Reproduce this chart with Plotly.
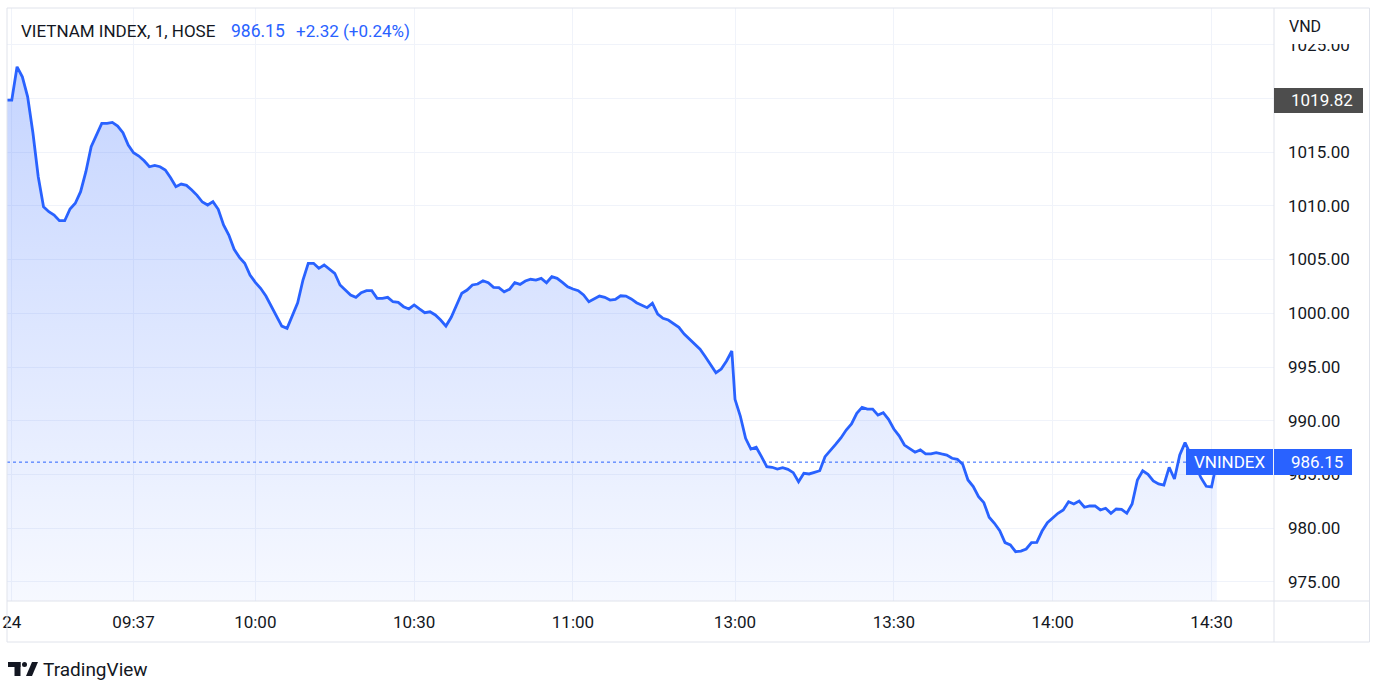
import plotly.graph_objects as go

# ---------------- data ----------------
DAY = "2023-10-24"
SYMBOL_TEXT = "VIETNAM INDEX, 1, HOSE"
TICKER = "VNINDEX"
CURRENCY = "VND"
last_price = 986.15
change = 2.32
change_pct = 0.24
marked_price = 1019.82

times = [
    "09:13", "09:14", "09:15", "09:16", "09:17", "09:18", "09:19", "09:20", "09:21", "09:22",
    "09:23", "09:24", "09:25", "09:26", "09:27", "09:28", "09:29", "09:30", "09:31", "09:32",
    "09:33", "09:34", "09:35", "09:36", "09:37", "09:38", "09:39", "09:40", "09:41", "09:42",
    "09:43", "09:44", "09:45", "09:46", "09:47", "09:48", "09:49", "09:50", "09:51", "09:52",
    "09:53", "09:54", "09:55", "09:56", "09:57", "09:58", "09:59", "10:00", "10:01", "10:02",
    "10:03", "10:04", "10:05", "10:06", "10:07", "10:08", "10:09", "10:10", "10:11", "10:12",
    "10:13", "10:14", "10:15", "10:16", "10:17", "10:18", "10:19", "10:20", "10:21", "10:22",
    "10:23", "10:24", "10:25", "10:26", "10:27", "10:28", "10:29", "10:30", "10:31", "10:32",
    "10:33", "10:34", "10:35", "10:36", "10:37", "10:38", "10:39", "10:40", "10:41", "10:42",
    "10:43", "10:44", "10:45", "10:46", "10:47", "10:48", "10:49", "10:50", "10:51", "10:52",
    "10:53", "10:54", "10:55", "10:56", "10:57", "10:58", "10:59", "11:00", "11:01", "11:02",
    "11:03", "11:05", "11:06", "11:07", "11:08", "11:09", "11:10", "11:11", "11:12", "11:14",
    "11:15", "11:16", "11:17", "11:18", "11:19", "11:20", "11:21", "11:22", "11:23", "11:24",
    "11:25", "11:26", "11:27", "11:28", "11:29", "11:30",
    "13:00", "13:01", "13:02", "13:03", "13:04", "13:05", "13:06", "13:07", "13:08", "13:09",
    "13:10", "13:11", "13:12", "13:13", "13:14", "13:15", "13:16", "13:17", "13:18", "13:19",
    "13:20", "13:21", "13:22", "13:23", "13:24", "13:25", "13:26", "13:27", "13:28", "13:29",
    "13:30", "13:31", "13:32", "13:33", "13:34", "13:35", "13:36", "13:37", "13:38", "13:39",
    "13:40", "13:41", "13:42", "13:43", "13:44", "13:45", "13:46", "13:47", "13:48", "13:49",
    "13:50", "13:51", "13:52", "13:53", "13:54", "13:55", "13:56", "13:57", "13:58", "13:59",
    "14:00", "14:01", "14:02", "14:03", "14:04", "14:05", "14:06", "14:07", "14:08", "14:09",
    "14:10", "14:11", "14:12", "14:13", "14:14", "14:15", "14:16", "14:17", "14:18", "14:19",
    "14:20", "14:21", "14:22", "14:23", "14:24", "14:25", "14:26", "14:27", "14:28", "14:29",
    "14:30", "14:31",
]
values = [
    1019.82, 1019.82, 1022.93, 1022.00, 1020.14, 1016.77, 1012.70, 1009.91, 1009.45, 1009.14,
    1008.61, 1008.61, 1009.70, 1010.23, 1011.31, 1013.17, 1015.49, 1016.58, 1017.67, 1017.67,
    1017.76, 1017.42, 1016.80, 1015.65, 1014.94, 1014.63, 1014.19, 1013.63, 1013.76, 1013.63,
    1013.33, 1012.61, 1011.77, 1012.02, 1011.90, 1011.47, 1010.97, 1010.35, 1010.07, 1010.38,
    1009.67, 1008.21, 1007.28, 1005.95, 1005.20, 1004.65, 1003.56, 1002.88, 1002.32, 1001.60,
    1000.67, 999.77, 998.81, 998.60, 999.84, 1000.98, 1003.09, 1004.65, 1004.65, 1004.18,
    1004.49, 1004.12, 1003.72, 1002.63, 1002.16, 1001.70, 1001.48, 1001.91, 1002.10, 1002.10,
    1001.39, 1001.39, 1001.48, 1001.07, 1001.02, 1000.61, 1000.40, 1000.77, 1000.40, 1000.05,
    1000.14, 999.84, 999.37, 998.81, 999.62, 1000.77, 1001.86, 1002.16, 1002.63, 1002.72,
    1003.03, 1002.84, 1002.41, 1002.38, 1002.00, 1002.23, 1002.84, 1002.69, 1003.00, 1003.16,
    1003.09, 1003.25, 1002.84, 1003.40, 1003.25, 1002.88, 1002.47, 1002.26, 1002.10, 1001.70,
    1001.07, 1001.60, 1001.48, 1001.23, 1001.30, 1001.63, 1001.60, 1001.33, 1000.98, 1000.52,
    1000.93, 999.93, 999.53, 999.37, 999.07, 998.69, 998.07, 997.58, 997.05, 996.65,
    995.96, 995.23, 994.47, 994.81, 995.56, 996.49,
    991.99, 990.44, 988.37, 987.37, 987.53, 986.66, 985.73, 985.67, 985.51, 985.63,
    985.48, 985.17, 984.33, 985.11, 985.05, 985.20, 985.35, 986.66, 987.28, 987.80,
    988.40, 989.14, 989.70, 990.69, 991.25, 991.09, 991.09, 990.53, 990.75, 990.13,
    989.23, 988.60, 987.74, 987.44, 987.07, 987.28, 986.91, 986.91, 987.03, 986.91,
    986.81, 986.51, 986.41, 985.95, 984.49, 983.87, 982.93, 982.38, 981.02, 980.46,
    979.77, 978.66, 978.44, 977.82, 977.88, 978.07, 978.66, 978.69, 979.74, 980.52,
    980.93, 981.39, 981.70, 982.47, 982.26, 982.53, 981.95, 982.07, 982.07, 981.70,
    981.86, 981.39, 981.79, 981.76, 981.39, 982.26, 984.49, 985.35, 985.02, 984.40,
    984.12, 984.02, 985.67, 984.58, 986.81, 987.96, 986.90, 985.80, 984.70, 983.90,
    983.84, 986.15,
]

price_ticks = [975, 980, 985, 990, 995, 1000, 1005, 1010, 1015, 1020, 1025]
hidden_price_ticks = [1020]  # covered by the marked-price label in the original
time_ticks = ["09:14", "09:37", "10:00", "10:30", "11:00", "13:00", "13:30", "14:00", "14:30"]
time_tick_labels = ["24", "09:37", "10:00", "10:30", "11:00", "13:00", "13:30", "14:00", "14:30"]
x_range = ["09:13:06", "14:41:48"]
y_range = [973.23, 1028.40]

# ---------------- styling ----------------
FONT = "Roboto"
TEXT = "#131722"
BLUE = "#2962FF"
GRID = "#f0f3fa"
BORDER = "#e0e3eb"
W, H = 1385, 696
L, R, T, B = 7, 1274, 8, 601


def px_x(px):
    return (px - L) / (R - L)


def px_y(py):
    return (B - py) / (B - T)


fig = go.Figure()
fig.add_trace(go.Scatter(
    x=[f"{DAY} {t}" for t in times],
    y=values,
    mode="lines",
    line=dict(color=BLUE, width=2.8),
    fill="tozeroy",
    fillgradient=dict(
        type="vertical",
        colorscale=[[0, "rgba(41,98,255,0.04)"], [1, "rgba(41,98,255,0.27)"]],
        start=y_range[0], stop=max(values),
    ),
    hoverinfo="skip",
    showlegend=False,
))

shapes = [
    # dotted last-price line
    dict(type="line", xref="paper", yref="y", x0=0, x1=px_x(1186),
         y0=last_price, y1=last_price, line=dict(color=BLUE, width=1, dash="dot")),
    # outer frame
    dict(type="rect", xref="paper", yref="paper", x0=px_x(7), x1=px_x(1369.5),
         y0=px_y(642), y1=px_y(8), line=dict(color=BORDER, width=1)),
    dict(type="line", xref="paper", yref="paper", x0=px_x(1274), x1=px_x(1274),
         y0=px_y(642), y1=px_y(8), line=dict(color=BORDER, width=1)),
    dict(type="line", xref="paper", yref="paper", x0=px_x(7), x1=px_x(1369.5),
         y0=px_y(601), y1=px_y(601), line=dict(color=BORDER, width=1)),
    # TradingView logo
    dict(type="rect", xref="paper", yref="paper", x0=px_x(8), x1=px_x(20.5),
         y0=px_y(667), y1=px_y(662), fillcolor=TEXT, line=dict(width=0)),
    dict(type="rect", xref="paper", yref="paper", x0=px_x(14.5), x1=px_x(20.5),
         y0=px_y(676), y1=px_y(662), fillcolor=TEXT, line=dict(width=0)),
    dict(type="circle", xref="paper", yref="paper", x0=px_x(22), x1=px_x(27),
         y0=px_y(667), y1=px_y(662), fillcolor=TEXT, line=dict(width=0)),
    dict(type="path", xref="paper", yref="paper",
         path=(f"M {px_x(26)} {px_y(676)} L {px_x(32)} {px_y(676)} "
               f"L {px_x(38)} {px_y(662)} L {px_x(32)} {px_y(662)} Z"),
         fillcolor=TEXT, line=dict(width=0)),
]


def box(x0, x1, yc, h, color, yref="y"):
    return dict(xref="paper", yref=yref, x=px_x((x0 + x1) / 2), y=yc,
                xanchor="center", yanchor="middle", text="\u00a0", showarrow=False,
                width=x1 - x0, height=h, bgcolor=color, borderpad=0, borderwidth=0)


def label(x, yc, text, color, size=17, yref="y", xanchor="left"):
    return dict(xref="paper", yref=yref, x=px_x(x), y=yc, xanchor=xanchor,
                yanchor="middle", text=text, showarrow=False,
                font=dict(family=FONT, size=size, color=color))


annotations = [
    # header
    label(19, px_y(31), SYMBOL_TEXT, TEXT, yref="paper"),
    label(229, px_y(31), f"{last_price:.2f}", BLUE, size=17.5, yref="paper"),
    label(294, px_y(31), f"{change:+.2f} ({change_pct:+.2f}%)", BLUE, yref="paper"),
    # currency label (masks top tick)
    box(1275, 1369, px_y(26.5), 35, "white", yref="paper"),
    label(1287, px_y(27), CURRENCY, TEXT, size=16, yref="paper"),
    # marked price label
    box(1274, 1363, marked_price, 25, "#4d4d4d"),
    label(1289, marked_price, f"{marked_price:.2f}", "white"),
    # ticker + last price labels
    box(1186, 1272.5, last_price, 26, BLUE),
    label(1229.5, last_price, TICKER, "white", xanchor="center"),
    box(1274, 1352, last_price, 26, BLUE),
    label(1289, last_price, f"{last_price:.2f}", "white"),
    # footer brand
    label(41, px_y(669), "TradingView", TEXT, size=19, yref="paper"),
]

fig.update_layout(
    width=W, height=H,
    margin=dict(l=L, r=W - R, t=T, b=H - B, autoexpand=False),
    paper_bgcolor="white", plot_bgcolor="white",
    font=dict(family=FONT, size=17, color=TEXT),
    shapes=shapes, annotations=annotations,
    hovermode=False,
    xaxis=dict(
        type="date",
        range=[f"{DAY} {x_range[0]}", f"{DAY} {x_range[1]}"],
        rangebreaks=[dict(bounds=[11.51, 13], pattern="hour")],
        tickvals=[f"{DAY} {t}" for t in time_ticks],
        ticktext=time_tick_labels,
        tickfont=dict(family=FONT, size=17, color=TEXT),
        ticks="", ticklabelstandoff=9,
        showgrid=True, gridcolor=GRID, gridwidth=1,
        zeroline=False, showline=False, fixedrange=True, automargin=False,
    ),
    yaxis=dict(
        side="right",
        range=y_range,
        tickvals=price_ticks,
        ticktext=["" if v in hidden_price_ticks else f"{v:.2f}" for v in price_ticks],
        tickfont=dict(family=FONT, size=17, color=TEXT),
        ticks="", ticklabelstandoff=13,
        showgrid=True, gridcolor=GRID, gridwidth=1,
        zeroline=False, showline=False, fixedrange=True, automargin=False,
    ),
)

fig.write_html("out.html", config={"displayModeBar": False},
               post_script="document.body.style.margin='0';")
